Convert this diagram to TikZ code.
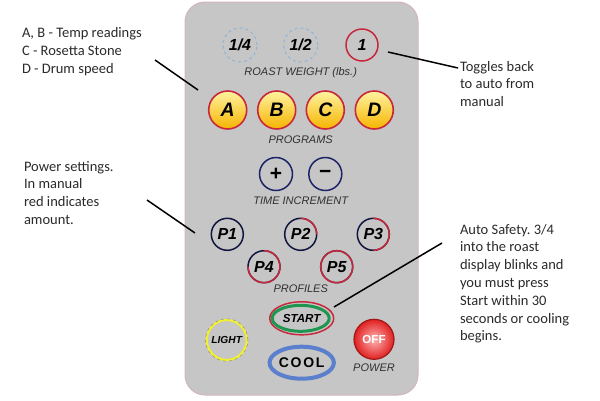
\documentclass[tikz,border=0pt]{standalone}
\usepackage{fontspec}
\setmainfont{Carlito}
\newfontfamily\btnfont{Liberation Sans}
\usetikzlibrary{shapes.geometric}
\frenchspacing

\definecolor{panelgray}{HTML}{C6C6C6}
\definecolor{panelpink}{HTML}{D4B4BC}
\definecolor{dashblue}{HTML}{8FB4D8}
\definecolor{ringred}{HTML}{C8283C}
\definecolor{navy}{HTML}{1C2468}
\definecolor{progtop}{HTML}{FFF3A0}
\definecolor{progbot}{HTML}{F5B400}
\definecolor{startgreen}{HTML}{1E9650}
\definecolor{coolblue}{HTML}{5A7FCC}
\definecolor{lightyellow}{HTML}{F0F030}
\definecolor{offpink}{HTML}{FFB4B4}
\definecolor{offred}{HTML}{E02020}
\definecolor{offdark}{HTML}{A01818}
\definecolor{labelgray}{HTML}{303030}
\definecolor{notegray}{HTML}{2A2A2A}

\begin{document}
\begin{tikzpicture}[x=1pt,y=-1pt,
  every node/.style={inner sep=0pt,outer sep=0pt},
  btn/.style={circle,minimum size=32pt,fill=panelgray,text=black,
    font={\btnfont\bfseries\itshape\fontsize{16}{16}\selectfont}},
  prog/.style={btn,minimum size=38pt,draw=ringred,line width=1.6pt,
    top color=progtop,bottom color=progbot,
    font={\btnfont\bfseries\itshape\fontsize{19.5}{19.5}\selectfont}},
  timebtn/.style={btn,minimum size=33pt,draw=navy,line width=1.5pt,
    font={\btnfont\bfseries\fontsize{21}{21}\selectfont}},
  panellabel/.style={text=labelgray,font={\btnfont\itshape\fontsize{11}{11}\selectfont}},
  note/.style={align=left,text=notegray,anchor=base west,font={\fontsize{14.5}{17.8}\selectfont}},
  pointer/.style={line width=1.5pt,black}]

\useasboundingbox (0,0) rectangle (600,400);

% remote panel
\draw[fill=panelgray,draw=panelpink,line width=1pt,rounded corners=20pt]
  (185,2) rectangle (418,395);

% roast weight
\node[btn,minimum size=34pt,draw=dashblue,dashed,line width=1pt] (quarter) at (240,45) {1/4};
\node[btn,minimum size=34pt,draw=dashblue,dashed,line width=1pt] (half) at (300.7,45) {1/2};
\node[btn,draw=ringred,line width=1.5pt] (one) at (362,45) {1};
\node[panellabel] (weightlbl) at (300.7,72.7) {ROAST WEIGHT (lbs.)};

% programs
\foreach \p/\x in {A/227.7,B/276.7,C/325.3,D/374.3}
  \node[prog] (prog\p) at (\x,110) {\p};
\node[panellabel] (proglbl) at (300.7,140) {PROGRAMS};

% time increment
\node[timebtn] (plus) at (276,174) {+};
\node[timebtn] (minus) at (325.3,174) {−};
\node[panellabel] (timelbl) at (300.7,201) {TIME INCREMENT};

% profiles, red part of the ring shows the amount
\foreach \n/\x/\y/\amt in {1/227.3/234.3/0,2/300.7/234.3/90,3/373.3/234.3/180,
                           4/264/266.7/270,5/336.7/266.7/360}{
  \node[btn,draw=navy!60!black,line width=1.5pt] (p\n) at (\x,\y) {P\n};
  \ifnum\amt>0
    \draw[ringred,line width=1.5pt] (p\n.north) arc[start angle=90,delta angle=-\amt,radius=16pt];
  \fi
}
\node[panellabel] (proflbl) at (300.7,289) {PROFILES};

% start / cool
\node[ellipse,minimum width=64pt,minimum height=33pt,fill=panelgray,draw=ringred,line width=1.5pt] (start) at (301.7,318.3) {};
\draw[startgreen,line width=3pt] ([xshift=-1pt]start.center) ellipse [x radius=28.5pt,y radius=13pt];
\node[font={\btnfont\bfseries\itshape\fontsize{11.6}{11.6}\selectfont}] (starttxt) at (start) {START};
\node[ellipse,minimum width=64pt,minimum height=32pt,fill=panelgray,draw=coolblue,line width=4pt,
  font={\btnfont\bfseries\fontsize{14}{14}\selectfont\addfontfeature{LetterSpace=12}}] (cool) at (301.7,362.7) {COOL};

% light / power
\node[btn,minimum size=40pt,draw=lightyellow,line width=2.2pt,
  font={\btnfont\bfseries\itshape\fontsize{10.2}{10.2}\selectfont}] (light) at (226.7,340) {LIGHT};
\draw[gray,dashed,line width=0.4pt] (light) circle[radius=21.2pt];
\node[btn,minimum size=40pt,draw=offdark,line width=1.2pt,inner color=offpink,outer color=offred,
  text=white,font={\btnfont\bfseries\fontsize{11.6}{11.6}\selectfont}] (off) at (374,339.3) {OFF};
\node[panellabel] (powerlbl) at (374,367.7) {POWER};

% notes (anchored at the baseline of their last line)
\node[note] (abnote) at (22,73.1) {A, B - Temp readings\\C - Rosetta Stone\\D - Drum speed};
\node[note] (pownote) at (24,224.4) {Power settings.\\In manual\\red indicates\\amount.};
\node[note] (togglenote) at (460,106.6) {Toggles back\\to auto from\\manual};
\node[note] (safenote) at (460,340.8) {Auto Safety. 3/4\\into the roast\\display blinks and\\you must press\\Start within 30\\seconds or cooling\\begins.};

% pointers
\coordinate (abtip) at (155,60);
\coordinate (abend) at (198,90);
\coordinate (powtip) at (147,200);
\coordinate (powend) at (195,233);
\coordinate (togtip) at (458,68);
\coordinate (togend) at (388,52);
\coordinate (safetip) at (442,243);
\coordinate (safeend) at (334,307);
\draw[pointer] (abtip) -- (abend);
\draw[pointer] (powtip) -- (powend);
\draw[pointer] (togtip) -- (togend);
\draw[pointer] (safetip) -- (safeend);
\end{tikzpicture}
\end{document}
